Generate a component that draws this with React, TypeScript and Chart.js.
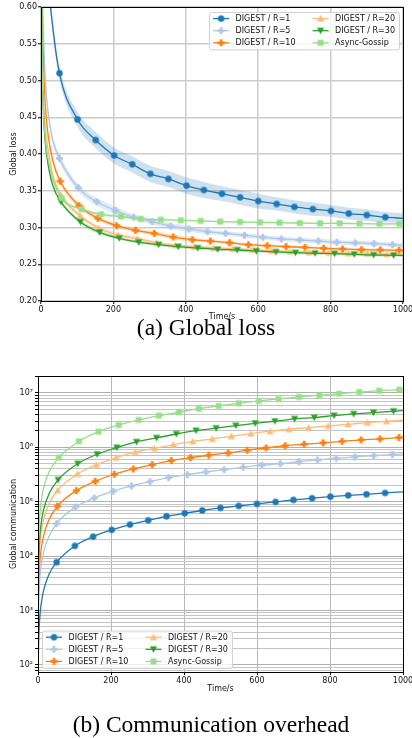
import React, { useEffect, useRef } from 'react';
import { Chart, registerables } from 'chart.js';

Chart.register(...registerables);

// ---------- labels & ticks ----------
const seriesLabels = ['DIGEST / R=1', 'DIGEST / R=5', 'DIGEST / R=10', 'DIGEST / R=20', 'DIGEST / R=30', 'Async-Gossip'];
const timeTicks = [0, 200, 400, 600, 800, 1000];
const lossTicks = [0.2, 0.25, 0.3, 0.35, 0.4, 0.45, 0.5, 0.55, 0.6];
const commDecades = [2, 3, 4, 5, 6, 7];

// ---------- marker sample times (s) ----------
const timesR1 = [51, 101, 151, 202, 252, 302, 352, 402, 450, 500, 550, 600, 651, 700, 751, 801, 850, 900, 951, 1000];
const timesR5 = [51, 103, 154, 206, 256, 307, 358, 409, 460, 510, 562, 613, 664, 715, 766, 817, 868, 920, 971, 1000];
const timesR10 = [53, 105, 157, 209, 261, 313, 365, 418, 468, 521, 573, 625, 677, 729, 781, 833, 885, 937, 989, 1000];
const timesR20 = [54, 108, 160, 214, 266, 319, 371, 424, 477, 530, 583, 636, 688, 741, 795, 849, 902, 955, 1000];
const timesR30 = [55, 109, 162, 216, 270, 325, 379, 433, 488, 542, 595, 649, 703, 757, 811, 865, 919, 974, 1000];
const timesAsync = [57, 112, 166, 221, 276, 331, 386, 441, 495, 550, 605, 659, 715, 771, 825, 880, 935, 990, 1000];

// ---------- (a) global loss ----------
const lossHeadTime = [0, 3, 6, 12, 20, 32];
const lossHeadR1 = [1.05, 0.95, 0.85, 0.73, 0.64, 0.575];
const lossHeadR5 = [0.9, 0.66, 0.58, 0.5, 0.455, 0.42];
const lossHeadR10 = [0.85, 0.6, 0.535, 0.465, 0.425, 0.392];
const lossHeadR20 = [0.8, 0.56, 0.49, 0.435, 0.405, 0.372];
const lossHeadR30 = [0.8, 0.53, 0.465, 0.415, 0.385, 0.358];
const lossHeadAsync = [0.8, 0.54, 0.47, 0.42, 0.392, 0.367];

const lossR1 = [0.51, 0.447, 0.419, 0.398, 0.386, 0.373, 0.366, 0.357, 0.351, 0.346, 0.341, 0.336, 0.332, 0.328, 0.325, 0.3225, 0.319, 0.317, 0.314, 0.3125];
const lossR5 = [0.394, 0.354, 0.335, 0.323, 0.314, 0.308, 0.302, 0.298, 0.2943, 0.292, 0.2894, 0.2867, 0.2844, 0.283, 0.2816, 0.28, 0.279, 0.278, 0.2766, 0.2757];
const lossR10 = [0.363, 0.3297, 0.3125, 0.3025, 0.2962, 0.292, 0.287, 0.2834, 0.2816, 0.2793, 0.2766, 0.2752, 0.2739, 0.273, 0.2717, 0.2707, 0.2698, 0.2694, 0.269, 0.2689];
const lossR20 = [0.345, 0.316, 0.299, 0.2895, 0.2848, 0.2793, 0.2757, 0.2738, 0.2722, 0.2708, 0.2695, 0.2682, 0.2672, 0.2663, 0.2656, 0.2649, 0.2643, 0.2637, 0.2635];
const lossR30 = [0.335, 0.3075, 0.2934, 0.2853, 0.28, 0.2766, 0.2739, 0.2721, 0.2703, 0.2694, 0.268, 0.2667, 0.2657, 0.2649, 0.2644, 0.2635, 0.2626, 0.2622, 0.262];
const lossAsync = [0.34, 0.325, 0.318, 0.315, 0.3116, 0.3106, 0.3098, 0.309, 0.308, 0.3075, 0.307, 0.3066, 0.3061, 0.3057, 0.3057, 0.3052, 0.305, 0.305, 0.305];

// half-width of the shaded spread (head samples first, then marker samples)
const bandR1 = [0.014, 0.014, 0.013, 0.012, 0.011, 0.01, 0.009, 0.01, 0.011, 0.011, 0.011, 0.011, 0.011, 0.011, 0.011, 0.01, 0.01, 0.01, 0.009, 0.009, 0.009, 0.008, 0.008, 0.008, 0.007, 0.007];
const bandR5 = [0.01, 0.01, 0.009, 0.008, 0.007, 0.006, 0.006, 0.005, 0.005, 0.005, 0.004, 0.004, 0.004, 0.004, 0.003, 0.003, 0.003, 0.003, 0.003, 0.003, 0.003, 0.003, 0.003, 0.003, 0.003, 0.003];
const bandR10 = [0.008, 0.008, 0.007, 0.006, 0.005, 0.005, 0.004, 0.004, 0.003, 0.003, 0.003, 0.003, 0.003, 0.003, 0.002, 0.002, 0.002, 0.002, 0.002, 0.002, 0.002, 0.002, 0.002, 0.002, 0.002, 0.002];
const bandR20 = [0.008, 0.008, 0.007, 0.006, 0.005, 0.005, 0.004, 0.003, 0.003, 0.003, 0.003, 0.002, 0.002, 0.002, 0.002, 0.002, 0.002, 0.002, 0.002, 0.002, 0.002, 0.002, 0.002, 0.002, 0.002];
const bandR30 = [0.008, 0.008, 0.007, 0.006, 0.005, 0.004, 0.003, 0.003, 0.003, 0.002, 0.002, 0.002, 0.002, 0.002, 0.002, 0.002, 0.002, 0.002, 0.002, 0.002, 0.002, 0.002, 0.002, 0.002, 0.002];
const bandAsync = [0.01, 0.01, 0.009, 0.008, 0.006, 0.005, 0.003, 0.002, 0.002, 0.002, 0.001, 0.001, 0.001, 0.001, 0.001, 0.001, 0.001, 0.001, 0.001, 0.001, 0.001, 0.001, 0.001, 0.001, 0.001];

// ---------- (b) communication overhead ----------
const commHeadTime = [0.5, 1, 2, 4, 8, 15, 30];
const commHeadR1 = [76, 152, 305, 610, 1220, 2300, 4600];
const commHeadR5 = [380, 760, 1500, 3050, 6100, 11500, 23000];
const commHeadR10 = [770, 1540, 3100, 6200, 12400, 23000, 46500];
const commHeadR20 = [1550, 3100, 6200, 12400, 24800, 46000, 92000];
const commHeadR30 = [2300, 4650, 9300, 18600, 37000, 70000, 139000];
const commHeadAsync = [5800, 11600, 23000, 46000, 93000, 174000, 350000];

const commR1 = [7730, 15400, 22800, 30300, 38000, 45600, 54000, 61400, 69000, 76900, 83700, 91200, 99200, 108000, 116000, 124000, 131000, 137000, 145000, 152000];
const commR5 = [39600, 80000, 117000, 156000, 195000, 234000, 277000, 315000, 352000, 389000, 430000, 469000, 500000, 546000, 586000, 630000, 666000, 703000, 735000, 760000];
const commR10 = [82600, 160000, 238000, 320000, 400000, 481000, 570000, 647000, 716000, 789000, 885000, 976000, 1070000, 1140000, 1210000, 1290000, 1370000, 1430000, 1510000, 1530000];
const commR20 = [163000, 324000, 475000, 647000, 813000, 960000, 1120000, 1290000, 1430000, 1600000, 1790000, 1980000, 2150000, 2300000, 2470000, 2650000, 2840000, 3020000, 3150000];
const commR30 = [252000, 500000, 746000, 990000, 1260000, 1490000, 1760000, 2030000, 2250000, 2510000, 2770000, 3020000, 3330000, 3520000, 3830000, 4110000, 4350000, 4610000, 4720000];
const commAsync = [647000, 1290000, 1950000, 2580000, 3190000, 3830000, 4420000, 5150000, 5770000, 6460000, 7130000, 7760000, 8430000, 9060000, 9720000, 10400000, 11000000, 11500000, 11600000];

// ---------- styling ----------
const STYLES = [
  { color: '#1f77b4', band: 'rgba(31,119,180,0.22)', marker: 'o' },
  { color: '#aec7e8', band: 'rgba(174,199,232,0.38)', marker: 'P' },
  { color: '#ff7f0e', band: 'rgba(255,127,14,0.22)', marker: 'P' },
  { color: '#ffbb78', band: 'rgba(255,187,120,0.38)', marker: '^' },
  { color: '#2ca02c', band: 'rgba(44,160,44,0.22)', marker: 'v' },
  { color: '#98df8a', band: 'rgba(152,223,138,0.38)', marker: 's' },
];

const SERIES = [
  { times: timesR1, loss: lossR1, lossHead: lossHeadR1, band: bandR1, comm: commR1, commHead: commHeadR1 },
  { times: timesR5, loss: lossR5, lossHead: lossHeadR5, band: bandR5, comm: commR5, commHead: commHeadR5 },
  { times: timesR10, loss: lossR10, lossHead: lossHeadR10, band: bandR10, comm: commR10, commHead: commHeadR10 },
  { times: timesR20, loss: lossR20, lossHead: lossHeadR20, band: bandR20, comm: commR20, commHead: commHeadR20 },
  { times: timesR30, loss: lossR30, lossHead: lossHeadR30, band: bandR30, comm: commR30, commHead: commHeadR30 },
  { times: timesAsync, loss: lossAsync, lossHead: lossHeadAsync, band: bandAsync, comm: commAsync, commHead: commHeadAsync },
];

const FONT = "'DejaVu Sans', sans-serif";
const TICK_SIZE = 8;
const LABEL_SIZE = 8;
const LINE_W = 1.3;
const CANVAS_W = 424;
const SUP: Record<number, string> = { 2: '²', 3: '³', 4: '⁴', 5: '⁵', 6: '⁶', 7: '⁷' };

Chart.defaults.font.family = FONT;
Chart.defaults.color = '#111';

function makeMarker(shape: string, color: string): HTMLCanvasElement {
  const s = 9;
  const c = document.createElement('canvas');
  c.width = s;
  c.height = s;
  const g = c.getContext('2d')!;
  g.fillStyle = color;
  const m = s / 2;
  g.beginPath();
  if (shape === 'o') {
    g.arc(m, m, 3.2, 0, Math.PI * 2);
  } else if (shape === 's') {
    g.rect(m - 3, m - 3, 6, 6);
  } else if (shape === '^') {
    g.moveTo(m, m - 3.6);
    g.lineTo(m + 3.6, m + 2.9);
    g.lineTo(m - 3.6, m + 2.9);
    g.closePath();
  } else if (shape === 'v') {
    g.moveTo(m, m + 3.6);
    g.lineTo(m + 3.6, m - 2.9);
    g.lineTo(m - 3.6, m - 2.9);
    g.closePath();
  } else {
    const a = 3.6;
    const b = 1.3;
    const pts = [[-b, -a], [b, -a], [b, -b], [a, -b], [a, b], [b, b], [b, a], [-b, a], [-b, b], [-a, b], [-a, -b], [-b, -b]];
    pts.forEach(([x, y], i) => (i === 0 ? g.moveTo(m + x, m + y) : g.lineTo(m + x, m + y)));
    g.closePath();
  }
  g.fill();
  return c;
}

function overlayPlugin(markers: HTMLCanvasElement[], corner: 'ne' | 'sw') {
  return {
    id: 'overlay-' + corner,
    afterDatasetsDraw(chart: any) {
      const { ctx, chartArea: a } = chart;
      ctx.save();
      // frame (spines)
      ctx.strokeStyle = '#000';
      ctx.lineWidth = 1;
      ctx.strokeRect(a.left + 0.5, a.top + 0.5, a.right - a.left, a.bottom - a.top);
      // legend
      ctx.font = `${LABEL_SIZE}px ${FONT}`;
      const w1 = Math.max(...seriesLabels.slice(0, 3).map((l) => ctx.measureText(l).width));
      const w2 = Math.max(...seriesLabels.slice(3).map((l) => ctx.measureText(l).width));
      const pad = 4, hl = 16, hp = 6.5, cs = 17, pitch = 12.1, vpad = 6.6;
      const bw = pad + hl + hp + w1 + cs + hl + hp + w2 + pad;
      const bh = vpad * 2 + pitch * 2;
      let bx: number, by: number;
      if (corner === 'ne') {
        bx = a.right - 4 - bw;
        by = a.top + 5;
      } else {
        bx = a.left + 4;
        by = a.bottom - 4 - bh;
      }
      ctx.beginPath();
      if ((ctx as any).roundRect) (ctx as any).roundRect(bx + 0.5, by + 0.5, bw, bh, 2);
      else ctx.rect(bx + 0.5, by + 0.5, bw, bh);
      ctx.fillStyle = 'rgba(255,255,255,0.8)';
      ctx.fill();
      ctx.strokeStyle = '#d0d0d0';
      ctx.lineWidth = 1;
      ctx.stroke();
      const colX = [bx + pad, bx + pad + hl + hp + w1 + cs];
      seriesLabels.forEach((label, i) => {
        const col = Math.floor(i / 3);
        const row = i % 3;
        const hx = colX[col];
        const y = by + vpad + row * pitch;
        ctx.strokeStyle = STYLES[i].color;
        ctx.lineWidth = LINE_W;
        ctx.beginPath();
        ctx.moveTo(hx, y);
        ctx.lineTo(hx + hl, y);
        ctx.stroke();
        const mk = markers[i];
        ctx.drawImage(mk, hx + hl / 2 - mk.width / 2, y - mk.height / 2);
        ctx.fillStyle = '#111';
        ctx.textBaseline = 'middle';
        ctx.textAlign = 'left';
        ctx.fillText(label, hx + hl + hp, y + 0.5);
      });
      ctx.restore();
    },
  };
}

function buildPoints(headT: number[], headV: number[], t: number[], v: number[]) {
  const pts = headT.map((x, i) => ({ x, y: headV[i] })).concat(t.map((x, i) => ({ x, y: v[i] })));
  const radius = pts.map((_, i) => (i >= headT.length && i < pts.length - 1 ? 3 : 0));
  return { pts, radius };
}

function xScale(height: number) {
  return {
    type: 'linear',
    min: 0,
    max: 1000,
    afterBuildTicks: (s: any) => {
      s.ticks = timeTicks.map((value) => ({ value }));
    },
    ticks: { font: { size: TICK_SIZE }, padding: 1, maxRotation: 0, autoSkip: false, color: '#111', callback: (v: any) => String(v) },
    border: { display: false },
    title: { display: true, text: 'Time/s', font: { size: LABEL_SIZE }, color: '#111', padding: { top: 0, bottom: 0 } },
    afterFit: (s: any) => {
      s.height = height;
    },
  };
}

function lossConfig(markers: HTMLCanvasElement[]): any {
  const datasets: any[] = [];
  SERIES.forEach((s, i) => {
    const { pts } = buildPoints(lossHeadTime, s.lossHead, s.times, s.loss);
    datasets.push({
      data: pts.map((p, j) => ({ x: p.x, y: p.y + s.band[j] })),
      borderColor: 'rgba(0,0,0,0)',
      borderWidth: 0,
      pointRadius: 0,
      fill: false,
      cubicInterpolationMode: 'monotone',
      order: 100,
    });
    datasets.push({
      data: pts.map((p, j) => ({ x: p.x, y: p.y - s.band[j] })),
      borderColor: 'rgba(0,0,0,0)',
      borderWidth: 0,
      pointRadius: 0,
      fill: '-1',
      backgroundColor: STYLES[i].band,
      cubicInterpolationMode: 'monotone',
      order: 100,
    });
  });
  SERIES.forEach((s, i) => {
    const { pts, radius } = buildPoints(lossHeadTime, s.lossHead, s.times, s.loss);
    datasets.push({
      label: seriesLabels[i],
      data: pts,
      borderColor: STYLES[i].color,
      borderWidth: LINE_W,
      pointStyle: markers[i],
      pointRadius: radius,
      pointHoverRadius: 0,
      fill: false,
      cubicInterpolationMode: 'monotone',
      order: 10 - i,
    });
  });
  return {
    type: 'line',
    data: { datasets },
    options: {
      responsive: false,
      animation: false,
      events: [],
      layout: { padding: { top: 7, right: CANVAS_W - 403, bottom: 0, left: 0 } },
      plugins: { legend: { display: false }, tooltip: { enabled: false } },
      scales: {
        x: { ...xScale(21), grid: { color: '#cccccc', lineWidth: 1.5, tickLength: 3, tickColor: '#000', tickWidth: 1 } },
        y: {
          type: 'linear',
          min: 0.2,
          max: 0.6,
          afterBuildTicks: (s: any) => {
            s.ticks = lossTicks.map((value) => ({ value }));
          },
          ticks: { font: { size: TICK_SIZE }, padding: 1, autoSkip: false, color: '#111', callback: (v: any) => Number(v).toFixed(2) },
          grid: { color: '#cccccc', lineWidth: 1.5, tickLength: 3, tickColor: '#000', tickWidth: 1 },
          border: { display: false },
          title: { display: true, text: 'Global loss', font: { size: LABEL_SIZE }, color: '#111', padding: { top: 8.7, bottom: 0 } },
          afterFit: (s: any) => {
            s.width = 41;
          },
        },
      },
    },
    plugins: [overlayPlugin(markers, 'ne')],
  };
}

function commConfig(markers: HTMLCanvasElement[]): any {
  const datasets: any[] = SERIES.map((s, i) => {
    const { pts, radius } = buildPoints(commHeadTime, s.commHead, s.times, s.comm);
    return {
      label: seriesLabels[i],
      data: pts,
      borderColor: STYLES[i].color,
      borderWidth: LINE_W,
      pointStyle: markers[i],
      pointRadius: radius,
      pointHoverRadius: 0,
      fill: false,
      cubicInterpolationMode: 'monotone',
      order: 10 - i,
    };
  });
  const isDecade = (v: number) => {
    const e = Math.log10(v);
    return Math.abs(e - Math.round(e)) < 1e-9;
  };
  return {
    type: 'line',
    data: { datasets },
    options: {
      responsive: false,
      animation: false,
      events: [],
      layout: { padding: { top: 24, right: CANVAS_W - 403, bottom: 2, left: 0 } },
      plugins: { legend: { display: false }, tooltip: { enabled: false } },
      scales: {
        x: { ...xScale(22), grid: { color: '#b8b8b8', lineWidth: 1, tickLength: 3, tickColor: '#000', tickWidth: 1 } },
        y: {
          type: 'logarithmic',
          min: 74,
          max: 2.05e7,
          afterBuildTicks: (s: any) => {
            const t: any[] = [];
            for (let k = 0; k < commDecades.length + 1; k++) {
              const e = commDecades[0] - 1 + k;
              for (let m = 1; m <= 9; m++) {
                const v = m * Math.pow(10, e);
                if (v > s.min && v < s.max) t.push({ value: v });
              }
            }
            s.ticks = t;
          },
          ticks: {
            font: { size: TICK_SIZE },
            padding: 2,
            autoSkip: false,
            color: '#111',
            callback: (v: any) => {
              if (!isDecade(Number(v))) return '';
              const e = Math.round(Math.log10(Number(v)));
              return commDecades.includes(e) ? '10' + SUP[e] : '';
            },
          },
          grid: {
            color: (c: any) => (c.tick && isDecade(c.tick.value) ? '#b0b0b0' : '#c4c4c4'),
            lineWidth: 1,
            tickLength: 3,
            tickColor: '#000',
            tickWidth: 1,
          },
          border: { display: false },
          title: { display: true, text: 'Global communication', font: { size: LABEL_SIZE }, color: '#111', padding: { top: 8.7, bottom: 0 } },
          afterFit: (s: any) => {
            s.width = 38;
          },
        },
      },
    },
    plugins: [overlayPlugin(markers, 'sw')],
  };
}

const captionBase: React.CSSProperties = {
  position: 'absolute',
  left: 0,
  width: 412,
  textAlign: 'center',
  fontFamily: "'Liberation Serif', 'Times New Roman', serif",
  fontSize: '23.5px',
  lineHeight: '23.5px',
  whiteSpace: 'nowrap',
  color: '#000',
};

export default function App() {
  const lossRef = useRef<HTMLCanvasElement>(null);
  const commRef = useRef<HTMLCanvasElement>(null);
  useEffect(() => {
    const markers = STYLES.map((s) => makeMarker(s.marker, s.color));
    const c1 = new Chart(lossRef.current!, lossConfig(markers));
    const c2 = new Chart(commRef.current!, commConfig(markers));
    return () => {
      c1.destroy();
      c2.destroy();
    };
  }, []);
  return (
    <div style={{ position: 'absolute', left: 0, top: 0, width: 412, height: 738, overflow: 'hidden', background: '#fff' }}>
      <canvas ref={lossRef} width={CANVAS_W} height={322} style={{ position: 'absolute', left: 0, top: 0 }} />
      <div style={{ ...captionBase, top: 316 }}>(a) Global loss</div>
      <canvas ref={commRef} width={CANVAS_W} height={344} style={{ position: 'absolute', left: 0, top: 352 }} />
      <div style={{ ...captionBase, top: 713, left: 5 }}>(b) Communication overhead</div>
    </div>
  );
}
